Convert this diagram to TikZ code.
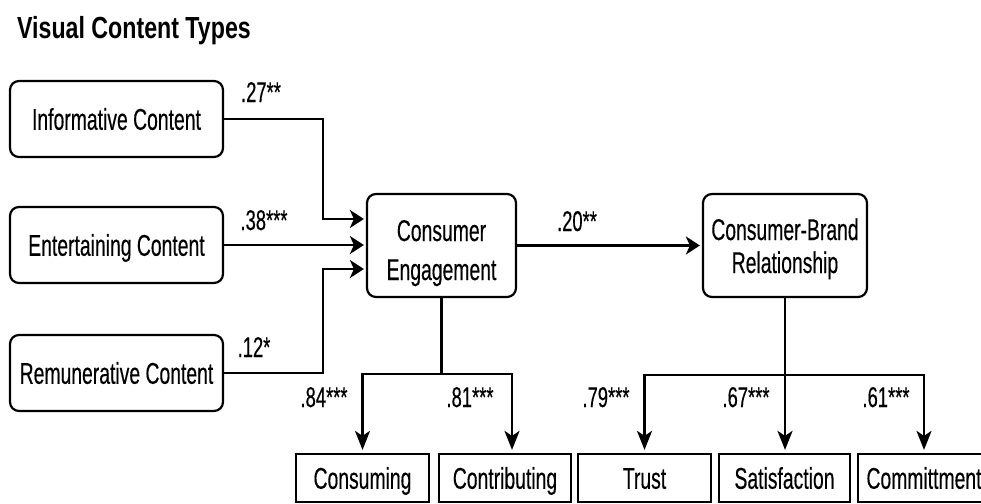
\documentclass[tikz,border=0pt]{standalone}
\usepackage{fontspec}
\setmainfont[FakeStretch=0.645,FakeBold=0.3]{Liberation Sans}
\newfontfamily\titlefont[FakeStretch=0.76]{Liberation Sans}
\usetikzlibrary{arrows.meta}

\begin{document}
\begin{tikzpicture}[x=1pt,y=-1pt,
  every node/.style={inner sep=0pt, text=black},
  box/.style={draw, line width=2.2pt, font=\fontsize{30}{33}\selectfont,
    text height=21.5pt, text depth=0pt, align=center},
  rbox/.style={box, rounded corners=9pt, minimum height=76pt, minimum width=213pt},
  sbox/.style={box, minimum height=48pt},
  coef/.style={font=\fontsize{28.5}{30}\selectfont, anchor=base},
  link/.style={draw, line width=2.5pt},
  harrow/.style={link, -{Stealth[length=14pt,width=18pt,inset=4pt]}, shorten >=2pt},
  varrow/.style={link, -{Stealth[length=19pt,width=15pt,inset=5pt]}, shorten >=3pt},
]
\useasboundingbox (0,0) rectangle (981,503);
\clip (0,0) rectangle (981,503);

% heading
\node[anchor=base west, font=\titlefont\bfseries\fontsize{30.5}{33}\selectfont] (title) at (17,38.5) {Visual Content Types};

% content types
\node[rbox] (info) at (116.5,119) {Informative Content};
\node[rbox] (ent)  at (116.5,245) {Entertaining Content};
\node[rbox] (rem)  at (116.5,373) {Remunerative Content};

% latent constructs (two-line labels are positioned by their last baseline)
\node[rbox, minimum width=149pt, minimum height=103pt, text height=69pt] (ce) at (441.5,245.5) {Consumer\\[6pt]Engagement};
\node[rbox, minimum width=164pt, minimum height=103pt, text height=55pt] (cbr) at (785,245.5) {Consumer-Brand\\Relationship};

% indicators
\node[sbox, minimum width=133pt] (cons)   at (362.5,478) {Consuming};
\node[sbox, minimum width=132pt] (contr)  at (505,478)   {Contributing};
\node[sbox, minimum width=133pt] (trust)  at (644.5,478) {Trust};
\node[sbox, minimum width=131pt] (satis)  at (784.5,478) {Satisfaction};
\node[sbox, minimum width=132pt] (commit) at (924,478)   {Committment};

% routing helpers
\coordinate (lj) at (323,0);
\coordinate (lvlA) at (0,374);
\coordinate (lvlB) at (0,375);
\coordinate (cesplit) at (ce.south |- lvlA);
\coordinate (cbrsplit) at (cbr.south |- lvlB);

% structural paths
\draw[harrow] (info.east) -- (info.east -| lj) |- ([yshift=26.5pt]ce.west);
\draw[harrow] (ent.east) -- (ent.east -| ce.west);
\draw[harrow] (rem.east) -- (rem.east -| lj) |- ([yshift=-23.5pt]ce.west);
\draw[harrow] (ce.east) -- (cbr.west);

% measurement paths
\draw[link] (ce.south) -- (cesplit);
\draw[varrow] (cesplit) -| (cons.north);
\draw[varrow] (cesplit) -| ([xshift=7pt]contr.north);
\draw[varrow] (cbr.south) -- (cbr.south |- satis.north);
\draw[varrow] (cbrsplit) -| (trust.north);
\draw[varrow] (cbrsplit) -| (commit.north);

% coefficients
\node[coef] (c1) at (261,102) {.27**};
\node[coef] (c2) at (264,230) {.38***};
\node[coef] (c3) at (254,357) {.12*};
\node[coef] (c4) at (577,231) {.20**};
\node[coef] (c5) at (324,407) {.84***};
\node[coef] (c6) at (470,407) {.81***};
\node[coef] (c7) at (606,407) {.79***};
\node[coef] (c8) at (746,407) {.67***};
\node[coef] (c9) at (886,407) {.61***};
\end{tikzpicture}
\end{document}
